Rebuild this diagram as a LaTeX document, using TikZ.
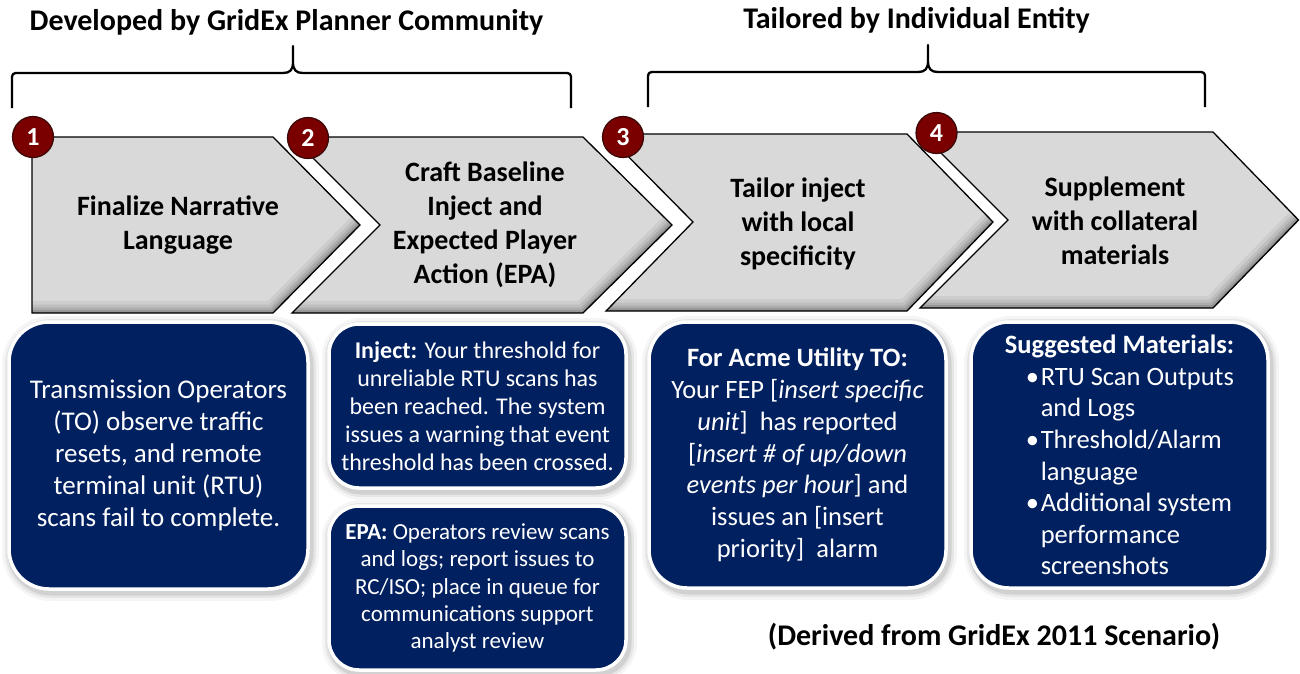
\documentclass[tikz,border=0pt]{standalone}
\usepackage{fontspec}
\setmainfont{Carlito}
\definecolor{navy}{HTML}{002060}
\definecolor{chev}{HTML}{D9D9D9}
\definecolor{badge}{HTML}{7A0000}
\definecolor{badgeline}{HTML}{3A0808}
\newcommand{\chevronshape}[7]{%
  \fill[chev] (#1,#5) -- (#3,#5) -- (#4,#7) -- (#3,#6) -- (#1,#6) -- (#2,#7) -- cycle;
  \begin{scope}
    \clip (#1,#5) -- (#3,#5) -- (#4,#7) -- (#3,#6) -- (#1,#6) -- (#2,#7) -- cycle;
    \foreach \w/\o in {24/0.05,17/0.07,11/0.09,6/0.12,2/0.15}
      \draw[line width=\w pt, black, opacity=\o, line join=round] (#1,#6) -- (#3,#6) -- (#4,#7);
  \end{scope}
  \draw[black, line width=1.3pt, line join=miter] (#1,#5) -- (#3,#5) -- (#4,#7) -- (#3,#6) -- (#1,#6) -- (#2,#7) -- cycle;
}
\begin{document}
\begin{tikzpicture}[x=1pt,y=-1pt,
  bracketline/.style={draw=black, line width=2.3pt, line join=round},
  title/.style={font=\fontsize{30}{36}\selectfont\bfseries, inner sep=0pt},
  chevtext/.style={font=\fontsize{28}{34}\selectfont\bfseries, align=center, inner sep=0pt},
  badgenode/.style={circle, fill=badge, draw=badgeline, line width=1.2pt, minimum size=41pt, inner sep=0pt,
     text=white, font=\fontsize{26}{26}\selectfont\bfseries},
  navybox/.style={rectangle, fill=navy, draw=white, line width=3.5pt, rounded corners=#1, text=white, align=center, inner sep=0pt,
     preaction={draw=black, opacity=0.04, line width=18pt, transform canvas={shift={(2pt,-3pt)}}},
     preaction={draw=black, opacity=0.06, line width=12pt, transform canvas={shift={(2pt,-3pt)}}},
     preaction={draw=black, opacity=0.09, line width=7pt, transform canvas={shift={(2pt,-3pt)}}}},
]
\fill[white] (0,0) rectangle (1300,673);
\useasboundingbox (0,0) rectangle (1300,673);

% titles
\node[title] (t1) at (286.5,22) {Developed by GridEx Planner Community};
\node[title] (t2) at (916.5,20) {Tailored by Individual Entity};
\node[title] (t3) at (994,637) {(Derived from GridEx 2011 Scenario)};

% brackets
\draw[bracketline] (12,108) -- (12,81) .. controls (12,73) .. (20,73) -- (283,73)
  .. controls (290,73) and (293,70) .. (293,62) -- (293,46) -- (293,62)
  .. controls (293,70) and (296,73) .. (303,73) -- (563,73) .. controls (571,73) .. (571,81) -- (571,108);
\draw[bracketline] (648,107) -- (648,80) .. controls (648,72) .. (656,72) -- (918,72)
  .. controls (925,72) and (928,69) .. (928,61) -- (928,45) -- (928,61)
  .. controls (928,69) and (931,72) .. (938,72) -- (1197,72) .. controls (1205,72) .. (1205,80) -- (1205,107);

% chevrons
\chevronshape{32}{32}{273}{360}{137}{313}{225}
\chevronshape{292}{380}{583}{672}{137}{313}{225}
\chevronshape{606}{693}{907}{993}{134}{311}{222}
\chevronshape{920}{1008}{1213}{1298.5}{132}{308}{220}

\node[chevtext] (c1) at (178,225) {Finalize Narrative\\Language};
\node[chevtext] (c2) at (485,225) {Craft Baseline\\Inject and\\Expected Player\\Action (EPA)};
\node[chevtext] (c3) at (798,224) {Tailor inject\\with local\\specificity};
\node[chevtext] (c4) at (1115,221) {Supplement\\with collateral\\materials};

% badges
\node[badgenode] (n1) at (33,137) {1};
\node[badgenode] (n2) at (308,138) {2};
\node[badgenode] (n3) at (623,137) {3};
\node[badgenode] (n4) at (936.5,133) {4};

% boxes
\node[navybox=40pt, minimum width=299pt, minimum height=267pt,
  font=\fontsize{27}{32}\selectfont] (b1) at (158.5,455.5)
  {Transmission Operators\\(TO) observe traffic\\resets, and remote\\terminal unit (RTU)\\scans fail to complete.};
\node[navybox=30pt, minimum width=297pt, minimum height=164pt,
  font=\fontsize{24}{28}\selectfont] (b2) at (477.5,406)
  {\textbf{Inject:} Your threshold for\\unreliable RTU scans has\\been reached. The system\\issues a warning that event\\threshold has been crossed.};
\node[navybox=30pt, minimum width=297pt, minimum height=164pt,
  font=\fontsize{23}{27.3}\selectfont] (b3) at (477.5,588)
  {\textbf{EPA:} Operators review scans\\and logs; report issues to\\RC/ISO; place in queue for\\communications support\\analyst review};
\node[navybox=38pt, minimum width=297pt, minimum height=266pt,
  font=\fontsize{26.5}{31.8}\selectfont] (b4) at (797.5,455)
  {\textbf{For Acme Utility TO:}\\Your FEP [\textit{insert specific}\\\textit{unit}]\ \ has reported\\{}[\textit{insert \# of up/down}\\\textit{events per hour}] and\\issues an [insert\\priority]\ \ alarm};
\node[navybox=38pt, minimum width=297pt, minimum height=266pt, align=left,
  font=\fontsize{26.5}{31.6}\selectfont] (b5) at (1119.5,455)
  {\textbf{Suggested Materials:}\\
   \hspace*{21pt}\makebox[15pt][l]{\textbullet}RTU Scan Outputs\\
   \hspace*{36pt}and Logs\\
   \hspace*{21pt}\makebox[15pt][l]{\textbullet}Threshold/Alarm\\
   \hspace*{36pt}language\\
   \hspace*{21pt}\makebox[15pt][l]{\textbullet}Additional system\\
   \hspace*{36pt}performance\\
   \hspace*{36pt}screenshots};
\end{tikzpicture}
\end{document}
